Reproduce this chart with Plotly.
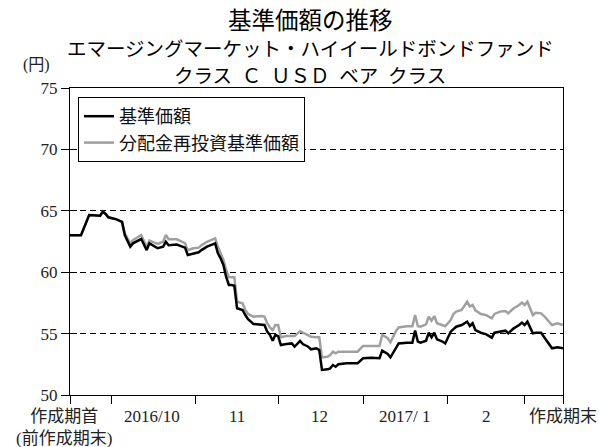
import plotly.graph_objects as go

dates = [
    "2016-09-16", "2016-09-20", "2016-09-23", "2016-09-27", "2016-09-28", "2016-09-29", "2016-09-30",
    "2016-10-03", "2016-10-05", "2016-10-06", "2016-10-08", "2016-10-09", "2016-10-12", "2016-10-14",
    "2016-10-15", "2016-10-18", "2016-10-20", "2016-10-21", "2016-10-22", "2016-10-25", "2016-10-27",
    "2016-10-28", "2016-10-29", "2016-10-31",
    "2016-11-02", "2016-11-03", "2016-11-05", "2016-11-08", "2016-11-09", "2016-11-10", "2016-11-11",
    "2016-11-12", "2016-11-13", "2016-11-14", "2016-11-15", "2016-11-16", "2016-11-18", "2016-11-19",
    "2016-11-20", "2016-11-22", "2016-11-25", "2016-11-26", "2016-11-27", "2016-11-28", "2016-11-29",
    "2016-11-30",
    "2016-12-01", "2016-12-02", "2016-12-04", "2016-12-06", "2016-12-07", "2016-12-09", "2016-12-10",
    "2016-12-12", "2016-12-13", "2016-12-15", "2016-12-16", "2016-12-17", "2016-12-19", "2016-12-20",
    "2016-12-21", "2016-12-22", "2016-12-23", "2016-12-26", "2016-12-30",
    "2017-01-01", "2017-01-04", "2017-01-07", "2017-01-08", "2017-01-10", "2017-01-11", "2017-01-13",
    "2017-01-14", "2017-01-17", "2017-01-19", "2017-01-20", "2017-01-21", "2017-01-22", "2017-01-24",
    "2017-01-25", "2017-01-26", "2017-01-27", "2017-01-28", "2017-01-30", "2017-01-31",
    "2017-02-02", "2017-02-03", "2017-02-04", "2017-02-06", "2017-02-08", "2017-02-09", "2017-02-10",
    "2017-02-11", "2017-02-13", "2017-02-15", "2017-02-17", "2017-02-18", "2017-02-20", "2017-02-22",
    "2017-02-23", "2017-02-25", "2017-02-27", "2017-02-28",
    "2017-03-01", "2017-03-02", "2017-03-04", "2017-03-05", "2017-03-07", "2017-03-08", "2017-03-11",
    "2017-03-13", "2017-03-15",
]

nav = [
    63.0, 63.0, 64.66, 64.6, 64.93, 64.74, 64.47,
    64.3, 64.09, 63.03, 62.08, 62.35, 62.7, 61.8, 62.35, 61.95, 62.08, 62.48, 62.2, 62.25, 62.08,
    62.0, 61.4, 61.53,
    61.62, 61.8, 62.08, 62.35, 61.54, 61.13, 60.59, 59.63, 58.96, 58.96, 58.9, 57.06, 56.92, 56.51,
    56.17, 55.78, 55.7, 55.7, 55.16, 54.89, 54.42, 54.89,
    54.8, 54.07, 54.15, 54.2, 53.93, 54.4, 54.15, 53.93, 53.72, 53.8, 53.66, 52.04, 52.09, 52.17,
    52.44, 52.3, 52.5, 52.58, 52.58,
    52.99, 53.04, 52.99, 53.61, 53.34, 53.07, 53.8, 54.2, 54.26, 54.26, 55.24, 54.35, 54.26, 54.42,
    55.07, 54.7, 55.07, 54.53, 54.35, 54.2,
    55.16, 55.35, 55.56, 55.7, 55.97, 55.62, 55.84, 55.29, 55.07, 54.94, 54.67, 55.07, 55.16, 55.24,
    55.02, 55.43, 55.7, 55.89,
    55.7, 55.97, 55.02, 55.07, 55.07, 54.75, 53.8, 53.89, 53.8,
]

nav_reinvested = [
    63.0, 63.0, 64.66, 64.6, 64.93, 64.74, 64.47,
    64.3, 64.09, 63.17, 62.35, 62.6, 63.03, 62.08, 62.57, 62.3, 62.48, 63.03, 62.68, 62.68, 62.48,
    62.35, 61.8, 61.95,
    62.0, 62.2, 62.48, 62.76, 62.08, 61.5, 61.0, 60.18, 59.58, 59.58, 59.58, 57.6, 57.47, 56.92,
    56.6, 56.38, 56.43, 56.38, 55.84, 55.5, 55.29, 55.7,
    55.7, 54.7, 54.8, 54.8, 54.8, 55.2, 55.08, 54.85, 54.75, 54.7, 54.7, 53.07, 53.12, 53.26,
    53.53, 53.4, 53.53, 53.53, 53.53,
    53.99, 53.99, 53.99, 54.89, 54.62, 54.29, 55.2, 55.5, 55.6, 55.6, 56.51, 55.6, 55.56, 55.76,
    56.38, 56.05, 56.43, 55.84, 55.7, 55.6,
    56.1, 56.6, 56.79, 56.92, 57.6, 57.2, 57.33, 56.9, 56.6, 56.51, 56.24, 56.6, 56.79, 56.84,
    56.65, 57.06, 57.33, 57.52,
    57.33, 57.6, 56.51, 56.7, 56.65, 56.45, 55.7, 55.84, 55.7,
]

series_names = ["基準価額", "分配金再投資基準価額"]
tick_boundaries = ["2016-09-16", "2016-10-01", "2016-11-01", "2016-12-01",
                   "2017-01-01", "2017-02-01", "2017-03-01", "2017-03-15"]
label_dates = ["2016-09-16", "2016-10-16", "2016-11-16", "2016-12-16",
               "2017-01-16", "2017-02-15", "2017-03-15"]
label_texts = ["作成期首<br>(前作成期末)", "2016/10", "11", "12", "2017/ 1", "2", "作成期末"]
y_ticks = [50, 55, 60, 65, 70, 75]
title_lines = ["基準価額の推移", "エマージングマーケット・ハイイールドボンドファンド",
               "クラス\u2002Ｃ\u2002ＵＳＤ\u2002ベア\u2002クラス"]

SERIF = "Liberation Serif, Noto Sans CJK JP, serif"
SANS = "Noto Sans CJK JP, sans-serif"

W, H = 602, 447
ML, MR, MT, MB = 70, 39, 88, 52
PW, PH = W - ML - MR, H - MT - MB


def px_to_paper_x(px):
    return (px - ML) / PW


def px_to_paper_y(py):
    return (H - MB - py) / PH


fig = go.Figure()
fig.add_trace(go.Scatter(x=dates, y=nav_reinvested, mode="lines", name=series_names[1],
                         line=dict(color="#a0a0a0", width=2.5), legendrank=2))
fig.add_trace(go.Scatter(x=dates, y=nav, mode="lines", name=series_names[0],
                         line=dict(color="#000000", width=2.5), legendrank=1))
# invisible helper trace so the inner tick axis is drawn
fig.add_trace(go.Scatter(x=[dates[0]], y=[nav[0]], yaxis="y2", mode="lines",
                         showlegend=False, hoverinfo="skip", line=dict(width=0),
                         opacity=0))

fig.update_layout(
    width=W, height=H,
    margin=dict(l=ML, r=MR, t=MT, b=MB),
    paper_bgcolor="white", plot_bgcolor="white",
    showlegend=True,
    legend=dict(x=px_to_paper_x(78), y=px_to_paper_y(97), xanchor="left", yanchor="top",
                bgcolor="white", bordercolor="black", borderwidth=1,
                font=dict(family=SANS, size=18, color="#111"),
                tracegroupgap=0, itemwidth=30),
    xaxis=dict(type="date", range=[tick_boundaries[0], tick_boundaries[-1]],
               tickmode="array", tickvals=tick_boundaries, ticktext=[""] * len(tick_boundaries),
               ticks="outside", ticklen=8, tickcolor="black", tickwidth=1,
               showline=True, linecolor="black", linewidth=1, mirror=True,
               showgrid=False, zeroline=False),
    yaxis=dict(range=[50, 75], tickmode="array", tickvals=y_ticks,
               ticks="outside", ticklen=8, tickcolor="black", tickwidth=1,
               showline=True, linecolor="black", linewidth=1, mirror=True,
               showgrid=True, gridcolor="black", gridwidth=1, griddash="6px,4px",
               zeroline=False,
               tickfont=dict(family=SERIF, size=17, color="#222")),
    yaxis2=dict(range=[50, 75], overlaying="y", side="left", tickmode="array",
                tickvals=y_ticks[1:-1], ticks="inside", ticklen=7, tickcolor="black",
                tickwidth=1, showticklabels=False, showgrid=False, showline=False,
                zeroline=False),
)

for d, t in zip(label_dates, label_texts):
    fig.add_annotation(x=d, y=0, xref="x", yref="paper", text=t, showarrow=False,
                       xanchor="center", yanchor="top", yshift=-10,
                       xshift=-6 if t.startswith("作成期首") else 0,
                       font=dict(family=SERIF, size=17, color="#222"))

fig.add_annotation(x=px_to_paper_x(36), y=px_to_paper_y(65), xref="paper", yref="paper",
                   xanchor="center", yanchor="middle",
                   text="(円)", showarrow=False, font=dict(family=SERIF, size=16, color="#222"))

title_y = [19, 48, 74]
title_size = [23.5, 19.5, 19.5]
for t, yy, fs in zip(title_lines, title_y, title_size):
    fig.add_annotation(x=px_to_paper_x(310), y=px_to_paper_y(yy), xref="paper", yref="paper",
                       text=t, showarrow=False, xanchor="center", yanchor="middle",
                       font=dict(family=SANS, size=fs, color="black"))

fig.write_html("out.html", config={"displayModeBar": False},
               post_script="document.body.style.margin='0';")
